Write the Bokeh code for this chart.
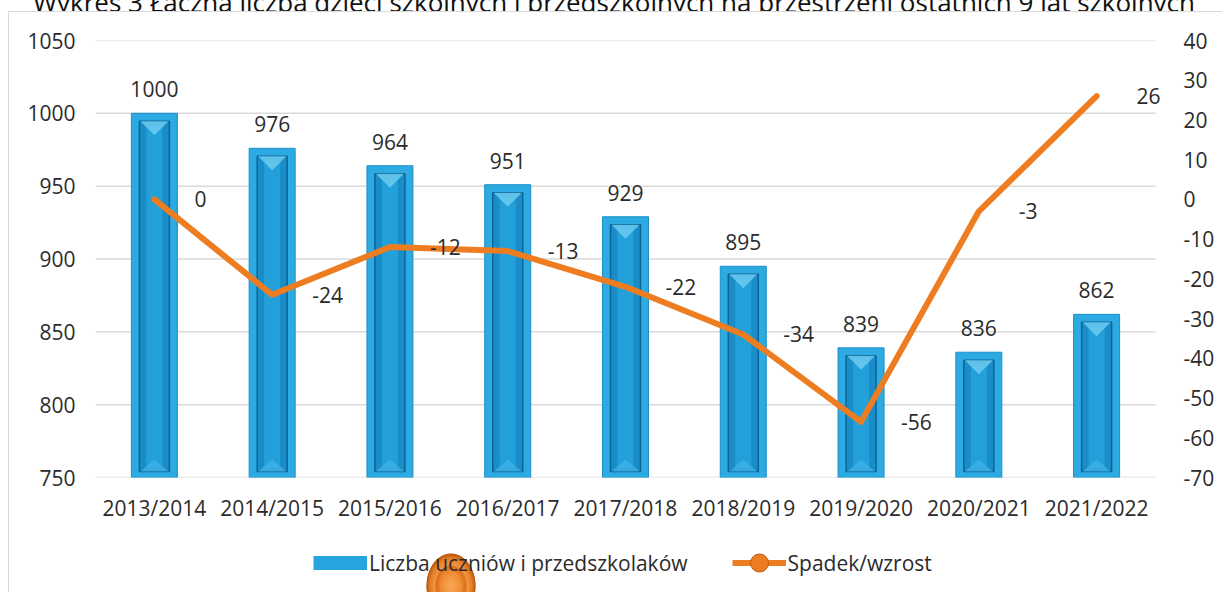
from bokeh.plotting import figure
from bokeh.layouts import column
from bokeh.models import (Range1d, FactorRange, LinearAxis, SingleIntervalTicker, FixedTicker,
                          PrintfTickFormatter, Legend, LegendItem, ColumnDataSource, Div)
from bokeh.core.properties import value
from bokeh.embed import file_html
from bokeh.resources import INLINE

# ---------------- data ----------------
years = ["2013/2014", "2014/2015", "2015/2016", "2016/2017", "2017/2018",
         "2018/2019", "2019/2020", "2020/2021", "2021/2022"]
pupils = [1000, 976, 964, 951, 929, 895, 839, 836, 862]
change = [0, -24, -12, -13, -22, -34, -56, -3, 26]
title_text = "Wykres 3 Łączna liczba dzieci szkolnych i przedszkolnych na przestrzeni ostatnich 9 lat szkolnych"
bar_name = "Liczba uczniów i przedszkolaków"
line_name = "Spadek/wzrost"

FONT = "Open Sans"
TXT = "#2b2b2b"
FS = "21px"
W = 1222
TOP_H, LEG_H = 11, 52              # title strip and legend strip heights
FL, FT = 95, 29                    # frame left / top inside main figure
CAT_W = 1060 / len(years)          # px per category
FW, FH = 1082, 437                 # frame size
MAIN_H = 592 - TOP_H - LEG_H

Y0, Y1 = 750, 1050
R0, R1 = -70, 40

GRID = "#D9D9D9"
ORANGE = "#EE7D22"
BLUE = "#2DAAE2"

bg = ", ".join([
    f"linear-gradient({GRID},{GRID}) 8px 11px / 1214px 1px no-repeat",
    f"linear-gradient({GRID},{GRID}) 8px 11px / 1px 600px no-repeat",
    "radial-gradient(ellipse 25px 33px at 451px 586px, #F8A85A 0%, #F08D33 40%, "
    "#D96E1E 58%, #F39440 66%, #E27A24 85%, #B9570F 97%, rgba(255,255,255,0) 100%)",
    "white",
])

def clear(fig):
    fig.outline_line_color = None
    fig.background_fill_alpha = 0
    fig.border_fill_alpha = 0
    fig.min_border = 0

# ---------------- title strip (cut off at the top, as in the source) ----------------
title_html = (f'<div style="margin:-18px 0 0 33px; padding:0; white-space:nowrap; '
              f'font-family:\'{FONT}\'; font-size:26px; '
              f'line-height:26px; color:#111111;">{title_text}</div>')
tdiv = Div(text=title_html, width=W, height=TOP_H, margin=0,
           styles={"overflow": "hidden"})

# ---------------- main chart ----------------
xc = [i + 0.5 for i in range(len(years))]
x_end = FW / CAT_W

p = figure(frame_width=FW, frame_height=FH, x_range=Range1d(0, x_end),
           y_range=Range1d(Y0, Y1), output_backend="svg", toolbar_location=None)
clear(p)
p.min_border_left = FL
p.min_border_right = W - FL - FW
p.min_border_top = FT
p.min_border_bottom = MAIN_H - FT - FH
p.background_fill_color = "white"
p.background_fill_alpha = 1
p.extra_y_ranges = {"right": Range1d(R0, R1)}

ypx = (Y1 - Y0) / FH
xpx = 1 / CAT_W

p.xaxis.ticker = FixedTicker(ticks=xc)
p.xaxis.major_label_overrides = {x: y for x, y in zip(xc, years)}
p.yaxis.ticker = SingleIntervalTicker(interval=50)
rax = LinearAxis(y_range_name="right", ticker=SingleIntervalTicker(interval=10),
                 formatter=PrintfTickFormatter(format="%d"))
p.add_layout(rax, "right")
for ax in [p.yaxis[0], p.xaxis[0], rax]:
    ax.axis_line_color = None
    ax.major_tick_line_color = None
    ax.minor_tick_line_color = None
    ax.major_label_text_font = FONT
    ax.major_label_text_font_size = FS
    ax.major_label_text_color = TXT
p.yaxis[0].major_label_standoff = 14
p.xaxis[0].major_label_standoff = 10
rax.major_label_standoff = 0
p.grid.grid_line_color = None

# horizontal grid lines over the category span only
gy = list(range(Y0, Y1 + 1, 50))
p.segment(x0=0, x1=len(years), y0=gy, y1=gy, line_color=GRID, line_width=1.5,
          level="underlay")

# bars (bevelled look)
src = ColumnDataSource(dict(
    x=xc, top=pupils,
    top2=[v - 8 * ypx for v in pupils],
    top3=[v - 14 * ypx for v in pupils]))
p.vbar(x="x", top="top", bottom=Y0, width=46 * xpx, source=src,
       fill_color=BLUE, line_color="#1A8FC8", line_width=1)
p.vbar(x="x", top="top2", bottom=Y0 + 6 * ypx, width=30 * xpx, source=src,
       fill_color="#1A8CC8", line_color="#0B6496", line_width=1.5)
p.vbar(x="x", top="top3", bottom=Y0 + 10 * ypx, width=16 * xpx, source=src,
       fill_color="#23A0DA", line_color=None)
tx, ty, bx, by = [], [], [], []
for c, v in zip(xc, pupils):
    tx.append([c - 14 * xpx, c + 14 * xpx, c])
    ty.append([v - 8 * ypx, v - 8 * ypx, v - 22 * ypx])
    bx.append([c - 14 * xpx, c + 14 * xpx, c])
    by.append([Y0 + 6 * ypx, Y0 + 6 * ypx, Y0 + 18 * ypx])
p.patches(tx, ty, fill_color="#6CCBF0", fill_alpha=0.85, line_color=None)
p.patches(bx, by, fill_color="#3DB2E6", fill_alpha=0.8, line_color=None)

p.text(x=xc, y=pupils, text=[str(v) for v in pupils], text_align="center",
       text_baseline="alphabetic", y_offset=-24, text_font=value(FONT),
       text_font_size=FS, text_color=TXT)

# line
p.line(x=xc, y=change, y_range_name="right", line_color=ORANGE,
       line_width=6, line_join="round", line_cap="round")
p.text(x=xc, y=change, y_range_name="right", text=[str(v) for v in change],
       text_align="left", text_baseline="middle", x_offset=40,
       text_font=value(FONT), text_font_size=FS, text_color=TXT)

# ---------------- legend strip (its frame is aligned with the chart frame) ----------------
lf = figure(width=W, height=LEG_H, x_range=FactorRange(*years), y_range=Range1d(R0, R1),
            x_axis_type=None, y_axis_type=None, output_backend="svg",
            toolbar_location=None)
clear(lf)
lb = lf.line(x=years, y=pupils, line_color="#27A4DE", line_width=14,
             line_cap="butt", visible=False)
ll = lf.line(x=years, y=change, line_color=ORANGE, line_width=6, visible=False)
lm = lf.scatter(x=years, y=change, marker="circle", fill_color=ORANGE,
                line_color="#B85A12", line_width=1, visible=False)
legend = Legend(items=[LegendItem(label=bar_name, renderers=[lb]),
                       LegendItem(label=line_name, renderers=[ll, lm])],
                orientation="horizontal", location=(314 - FL - 1, 7),
                border_line_color=None, background_fill_alpha=0,
                inactive_fill_alpha=0,
                label_text_font=FONT, label_text_font_size=FS,
                label_text_color=TXT, glyph_width=54, glyph_height=45,
                spacing=44, label_standoff=2, padding=0, margin=0)
lf.add_layout(legend)

layout = column(tdiv, p, lf, spacing=0, styles={"background": bg})
open("out.html", "w").write(file_html(layout, INLINE))
